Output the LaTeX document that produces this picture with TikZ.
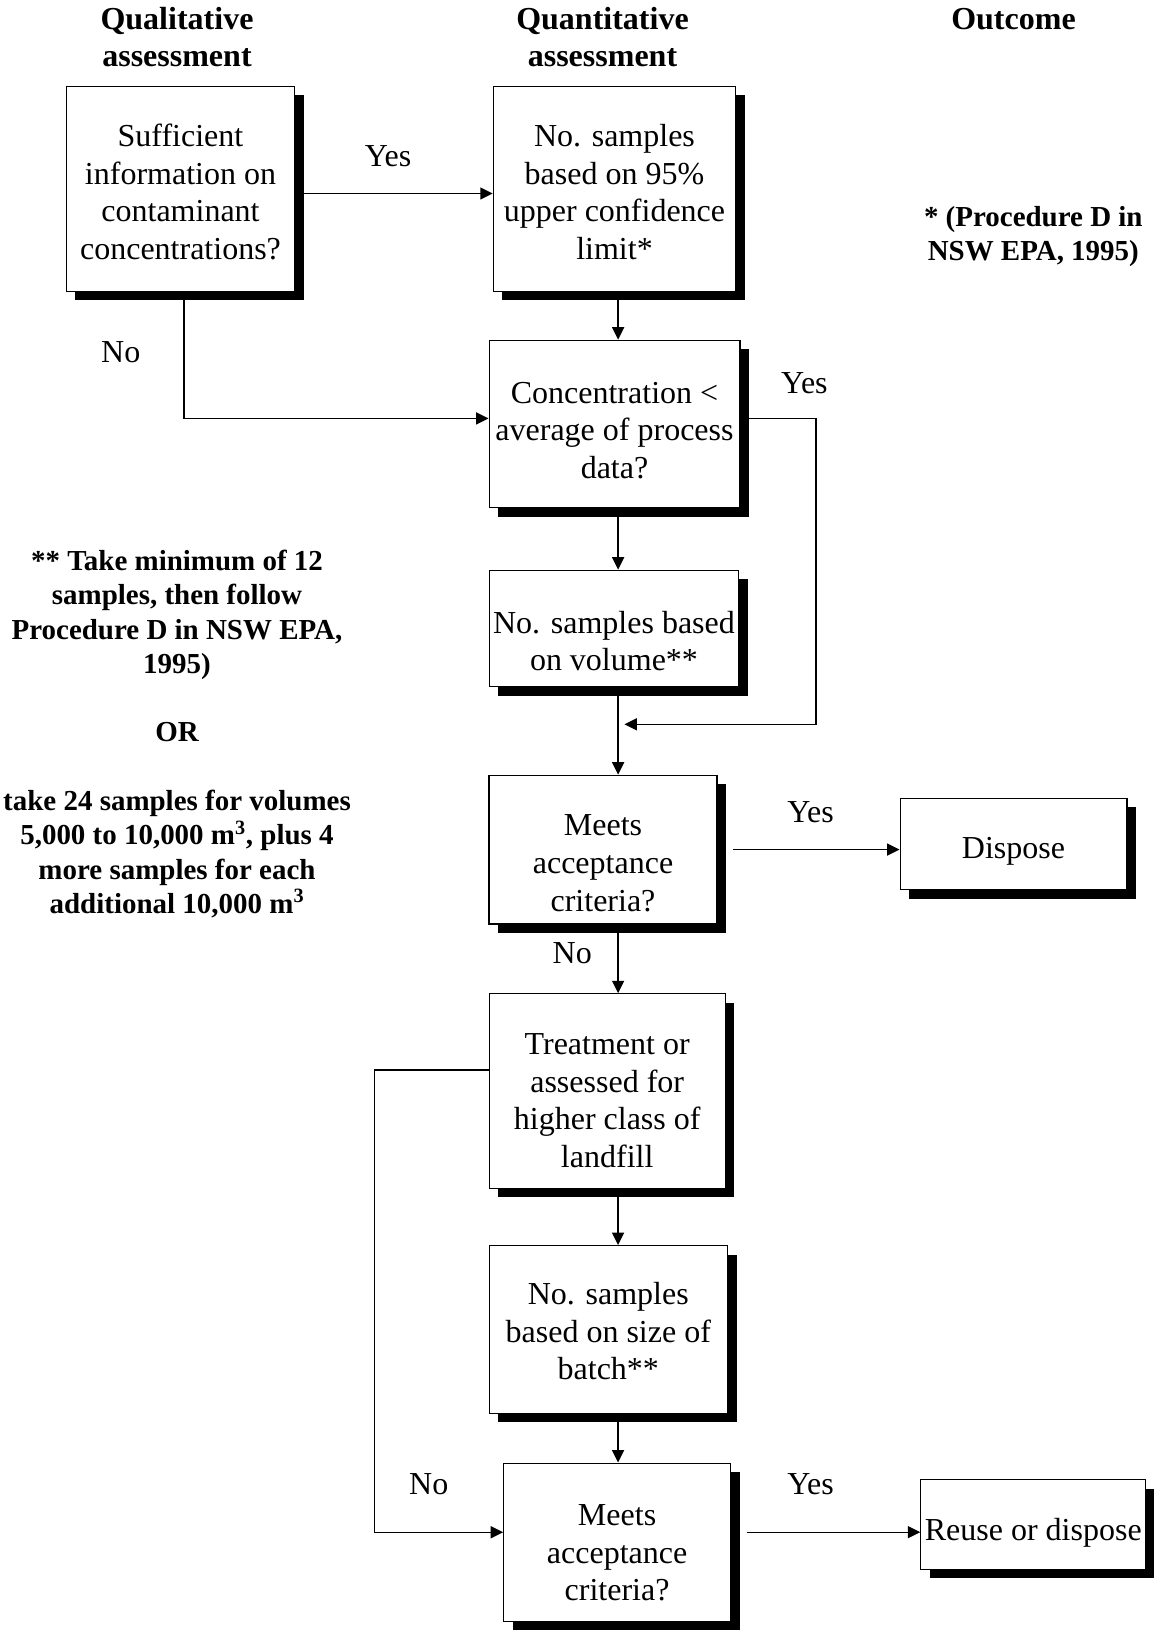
\documentclass[tikz,border=0pt]{standalone}
\usepackage{fontspec}
\setmainfont{Liberation Serif}
\usetikzlibrary{arrows.meta,shadows}
\newcommand{\boxlift}[1]{\rule{0pt}{#1}}

\begin{document}
\begin{tikzpicture}[x=0.025cm,y=-0.025cm,line width=1pt,
	box/.style={draw,fill=white,line width=0.8pt,align=center,inner sep=0pt,
		font=\fontsize{22.76}{26.7}\selectfont,
		drop shadow={shadow xshift=0.225cm,shadow yshift=-0.225cm,fill=black,opacity=1}},
	head/.style={align=center,font=\bfseries\fontsize{22.76}{25.9}\selectfont},
	note/.style={align=center,font=\bfseries\fontsize{20.6}{24.4}\selectfont},
	lbl/.style={font=\fontsize{22.76}{26.7}\selectfont},
	arr/.style={-{Triangle[length=0.31cm,width=0.3cm]}}]
	\path[fill=white,use as bounding box] (0,0) rectangle (1153,1631);

	%column headings
	\node[head] (qual) at (177,37) {Qualitative\\assessment};
	\node[head] (quant) at (602.5,37) {Quantitative\\assessment};
	\node[head] (outc) at (1013.5,18.7) {Outcome};

	%boxes
	\node[box,minimum width=5.7cm,minimum height=5.125cm] (suff) at (180.5,188.9) {\boxlift{20.2pt}Sufficient\\information on\\contaminant\\concentrations?};
	\node[box,minimum width=6.06cm,minimum height=5.125cm] (ucl) at (614.5,188.9) {\boxlift{20.2pt}No. samples\\based on 95\%\\upper confidence\\limit*};
	\node[box,minimum width=6.27cm,minimum height=4.19cm] (conc) at (614.5,424) {\boxlift{24.2pt}Concentration <\\average of process\\data?};
	\node[box,minimum width=6.24cm,minimum height=2.915cm] (vol) at (614,628.5) {\boxlift{33.6pt}No. samples based\\on volume**};
	\node[box,minimum width=5.7cm,minimum height=3.72cm] (meetA) at (603,849.6) {\boxlift{34.3pt}Meets\\acceptance\\criteria?};
	\node[box,minimum width=5.67cm,minimum height=2.29cm] (disp) at (1013.5,843.9) {\boxlift{25.5pt}Dispose};
	\node[box,minimum width=5.905cm,minimum height=4.865cm] (treat) at (607.2,1091.1) {\boxlift{28.5pt}Treatment or\\assessed for\\higher class of\\landfill};
	\node[box,minimum width=5.96cm,minimum height=4.19cm] (batch) at (608.3,1329.4) {\boxlift{18.6pt}No. samples\\based on size of\\batch**};
	\node[box,minimum width=5.67cm,minimum height=3.955cm] (meetB) at (617.1,1542.2) {\boxlift{29.9pt}Meets\\acceptance\\criteria?};
	\node[box,minimum width=5.62cm,minimum height=2.24cm] (reuse) at (1033.3,1524.5) {\boxlift{27.6pt}Reuse or dispose};

	%notes
	\node[note] (noteA) at (1033.3,236.8) {* (Procedure D in\\NSW EPA, 1995)};
	\node[note] (noteB) at (177,734) {** Take minimum of 12\\samples, then follow\\Procedure D in NSW EPA,\\1995)\\[24.4pt]OR\\[24.4pt]take 24 samples for volumes\\5,000 to 10,000 m\textsuperscript{3}, plus 4\\more samples for each\\additional 10,000 m\textsuperscript{3}};

	%helper points
	\coordinate (spine) at (618.1,0); %main vertical line
	\coordinate (bendA) at (815.8,724.3); %yes loop corner
	\coordinate (join) at (624.4,724.3); %yes loop end
	\coordinate (bendB) at (374.6,1300); %no loop
	\coordinate (rowB) at ([yshift=0.25cm]meetB.west); %last row

	%main line down
	\draw[arr] (ucl.south -| spine) -- (conc.north -| spine);
	\draw[arr] (conc.south -| spine) -- (vol.north -| spine);
	\draw[arr] (vol.south -| spine) -- (meetA.north -| spine);
	\draw[arr] (meetA.south -| spine) -- (treat.north -| spine);
	\draw[arr] (treat.south -| spine) -- (batch.north -| spine);
	\draw[arr] (batch.south -| spine) -- (meetB.north -| spine);

	%side arrows
	\draw[arr] ([yshift=-0.115cm]suff.east) -- ([yshift=-0.115cm]ucl.west); %yes
	\draw[arr] ([xshift=0.09cm]suff.south) |- ([yshift=0.14cm]conc.west); %no
	\draw[arr] ([yshift=0.14cm]conc.east) -| (bendA) -- (join); %yes loop
	\draw[arr] ([xshift=0.39cm]meetA.east) -- (meetA.east -| disp.west); %dispose
	\draw[arr] ([yshift=0.53cm]treat.west) -| (bendB) |- (rowB); %no loop
	\draw[arr] ([xshift=0.39cm]rowB -| meetB.east) -- (rowB -| reuse.west); %reuse

	%labels
	\node[lbl] (yesA) at (388.1,156.1) {Yes};
	\node[lbl] (noA) at (120.7,351.7) {No};
	\node[lbl] (yesB) at (804.4,383) {Yes};
	\node[lbl] (yesC) at (810.6,811.7) {Yes};
	\node[lbl] (noB) at (572.3,953.2) {No};
	\node[lbl] (noC) at (428.7,1483.9) {No};
	\node[lbl] (yesD) at (810.6,1483.9) {Yes};
\end{tikzpicture}
\end{document}
